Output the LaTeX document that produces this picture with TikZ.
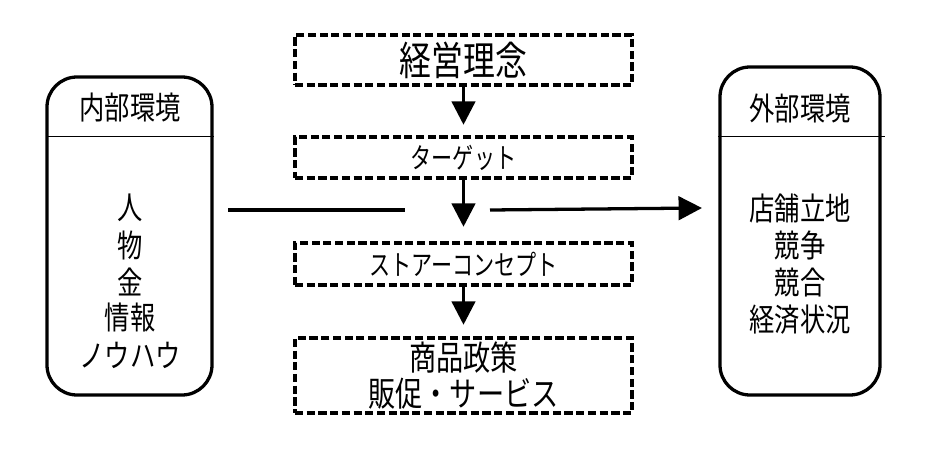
\documentclass[tikz,border=0pt]{standalone}
\usepackage{fontspec}
\setmainfont{Noto Sans CJK JP}
\usetikzlibrary{arrows.meta}
\begin{document}
\begin{tikzpicture}[x=0.03cm,y=-0.03cm,
    plan/.style={draw, line width=3pt, dash pattern=on 7pt off 3pt, minimum width=337*0.03cm, inner sep=0pt},
    side/.style={draw, line width=2.8pt, rounded corners=0.9cm},
    flow/.style={-{Triangle[length=20pt,width=20pt]}, line width=2.8pt},
    item/.style={font=\fontsize{27}{29}\selectfont, xscale=0.8}]
    \useasboundingbox (0,0) rectangle (939,472);
    {\fontsize{24}{26}\selectfont

    % Left box
    \draw [side] (47,77) rectangle (212,395);
    \draw [line width=0.8pt] (47,136) -- (214,136);%
    \node [item] (naibu) at (130,108) {内部環境};
    \node [item] (hito) at (130,208) {人};
    \node [item] (mono) at (130,245) {物};
    \node [item] (kane) at (130,282) {金};
    \node [item] (joho) at (130,318) {情報};
    \node [item] (knowhow) at (130,355) {ノウハウ};

    % Right box
    \draw [side] (720,67) rectangle (880,395);
    \draw [line width=0.8pt] (718,136) -- (885,136);%
    \node [item] (gaibu) at (800,108) {外部環境};
    \node [item] (ricchi) at (800,208) {店舗立地};
    \node [item] (kyoso) at (800,245) {競争};
    \node [item] (kyogo) at (800,283) {競合};
    \node [item] (keizai) at (800,320) {経済状況};

    % Center boxes
    \node [plan, minimum height=50*0.03cm] (rinen) at (463.5,60) {\fontsize{34}{36}\selectfont\scalebox{0.8}[1]{経営理念}};
    \node [plan, minimum height=41*0.03cm] (target) at (463.5,157.5) {\scalebox{0.75}[1]{ターゲット}};
    \node [plan, minimum height=42*0.03cm] (concept) at (463.5,264) {\scalebox{0.75}[1]{ストアーコンセプト}};
    \node [plan, minimum height=75*0.03cm, align=center, font=\fontsize{29}{31}\selectfont] (seisaku) at (463.5,375.5)
        {\scalebox{0.8}[1]{商品政策}\\\scalebox{0.8}[1]{販促・サービス}};

    % Arrows
    \draw [flow] (rinen.south) -- ++(0,38);%
    \draw [flow] (target.south) -- ++(0,47);%
    \draw [flow] (concept.south) -- ++(0,38);%
    \coordinate (lineL) at (228,210);
    \coordinate (lineM) at (405,210);
    \coordinate (arrowS) at (490,210);
    \draw [line width=2.8pt] (lineL) -- (lineM);%
    \draw [flow] (arrowS) -- (ricchi.west -| 702,0);%
    }
\end{tikzpicture}
\end{document}
